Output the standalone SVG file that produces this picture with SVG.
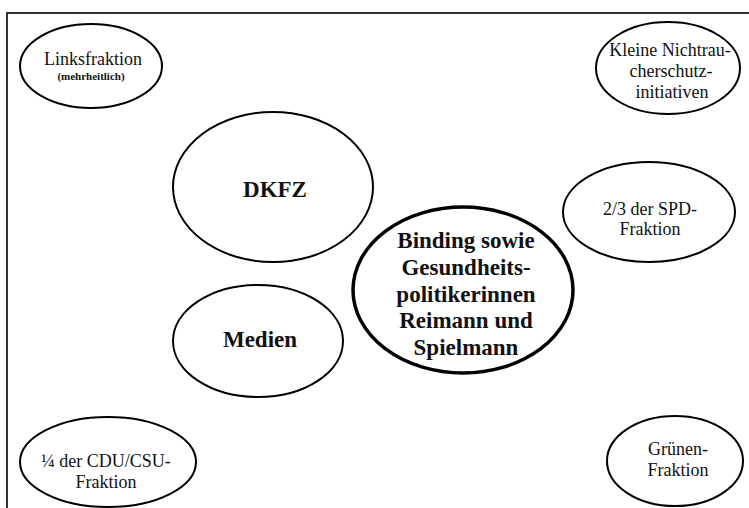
<svg xmlns="http://www.w3.org/2000/svg" width="749" height="508" viewBox="0 0 749 508">
<style>
.e{fill:#fff;stroke:#000;stroke-width:2}
.ec{fill:#fff;stroke:#000;stroke-width:3.5}
.t{font-family:"Liberation Serif","Times New Roman",serif;font-size:18px;fill:#111;text-anchor:middle}
.s{font-family:"Liberation Serif","Times New Roman",serif;font-size:11px;font-weight:bold;fill:#111;text-anchor:middle}
.b{font-family:"Liberation Serif","Times New Roman",serif;font-size:23px;font-weight:bold;fill:#111;text-anchor:middle}
</style>
<rect width="749" height="508" fill="#fff"/>
<path d="M7,520 V13 H760" fill="none" stroke="#333" stroke-width="2"/>
<g id="connectors"></g>
<g id="linksfraktion">
<ellipse class="e" cx="91" cy="66" rx="71" ry="42"/>
<text class="t" x="93" y="65">Linksfraktion</text>
<text class="s" x="91" y="80">(mehrheitlich)</text>
</g>
<g id="kleine">
<ellipse class="e" cx="668" cy="68" rx="72" ry="46"/>
<text class="t" x="670" y="56">Kleine Nichtrau-</text>
<text class="t" x="671" y="77">cherschutz-</text>
<text class="t" x="672" y="98">initiativen</text>
</g>
<g id="dkfz">
<ellipse class="e" cx="273" cy="187" rx="100" ry="75"/>
<text class="b" x="275" y="197">DKFZ</text>
</g>
<g id="spd">
<ellipse class="e" cx="649" cy="212" rx="86" ry="50"/>
<text class="t" x="650" y="215">2/3 der SPD-</text>
<text class="t" x="650" y="235">Fraktion</text>
</g>
<g id="medien">
<ellipse class="e" cx="258" cy="341" rx="85" ry="56"/>
<text class="b" x="260" y="347">Medien</text>
</g>
<g id="binding">
<ellipse class="ec" cx="463" cy="290" rx="110" ry="83"/>
<text class="b" x="466" y="248">Binding sowie</text>
<text class="b" x="466" y="275">Gesundheits-</text>
<text class="b" x="466" y="302">politikerinnen</text>
<text class="b" x="466" y="328">Reimann und</text>
<text class="b" x="466" y="355">Spielmann</text>
</g>
<g id="cdu">
<ellipse class="e" cx="108" cy="462" rx="88" ry="45"/>
<text class="t" x="106" y="467">¼ der CDU/CSU-</text>
<text class="t" x="106" y="488">Fraktion</text>
</g>
<g id="gruenen">
<ellipse class="e" cx="675" cy="461" rx="68" ry="45"/>
<text class="t" x="678" y="455">Grünen-</text>
<text class="t" x="678" y="476">Fraktion</text>
</g>
</svg>
